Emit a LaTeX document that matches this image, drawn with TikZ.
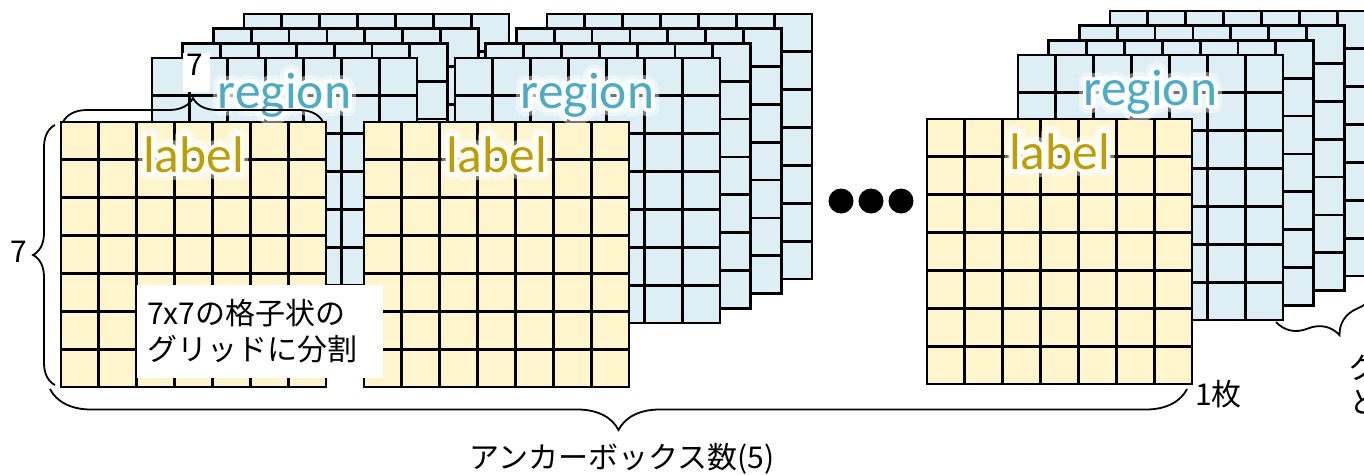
\documentclass[tikz,border=0pt]{standalone}
\usepackage{fontspec}
\setmainfont{Carlito}
\newfontfamily\jp{Noto Sans CJK JP}
\usetikzlibrary{decorations.pathreplacing,calc}
\definecolor{bluefill}{HTML}{DDEEF5}
\definecolor{yellowfill}{HTML}{FFF5CC}
\definecolor{regioncol}{HTML}{4BACC6}
\definecolor{labelcol}{HTML}{BF9F00}

\newcommand\gridsheet[3]{%
  \fill[#3] (#1,#2) rectangle ++(265,265);
  \foreach \j in {1,...,6}{%
    \draw[gridline] ({#1+\j*37.857},#2) -- ++(0,265);
    \draw[gridline] (#1,{#2+\j*37.857}) -- ++(265,0);
  }%
  \draw[gridline] (#1,#2) rectangle ++(265,265);
}
\newcommand\glowtext[4]{%
  \node[bigtxt,anchor=base,text=white,opacity=0.45] at #2 {\special{pdf:literal direct 2 Tr 16 w 1 j 1 1 1 RG}#4\special{pdf:literal direct 0 Tr}};%
  \node[bigtxt,anchor=base,text=white] at #2 {\special{pdf:literal direct 2 Tr 8 w 1 j 1 1 1 RG}#4\special{pdf:literal direct 0 Tr}};%
  \node[bigtxt,anchor=base,text=#3] (#1) at #2 {#4};%
}
\newcommand\gridstack[3]{%
  \foreach \i in {3,2,1,0}{%
    \pgfmathsetmacro\sx{#1+91+\i*30.67}%
    \pgfmathsetmacro\sy{#2-64-\i*14.67}%
    \gridsheet{\sx}{\sy}{bluefill}%
  }%
  \gridsheet{#1}{#2}{yellowfill}%
  \glowtext{region#3}{(#1+223.5,#2-14)}{regioncol}{region}%
  \glowtext{label#3}{(#1+132.5,#2+50)}{labelcol}{label}%
}

\begin{document}
\begin{tikzpicture}[x=1pt,y=-1pt,
  gridline/.style={line width=2.8pt,line cap=rect,black},
  bigtxt/.style={font=\fontsize{51.5}{60}\selectfont,inner sep=0pt},
  jptxt/.style={font=\jp\fontsize{30}{36}\selectfont,inner sep=0pt},
  bracestyle/.style={line width=1.8pt,decorate,decoration={brace,amplitude=#1}},
  dotstyle/.style={circle,fill=black,minimum size=25pt,inner sep=0pt}]
\useasboundingbox (0,0) rectangle (1364,474);

\gridstack{61}{122}{1}
\gridstack{364}{122}{2}
\gridstack{927}{119}{3}

% dots
\node[dotstyle] (dot1) at (841,201) {};
\node[dotstyle] (dot2) at (871,201) {};
\node[dotstyle] (dot3) at (901,201) {};

% braces
\coordinate (tb1) at (63,122);
\coordinate (tb2) at (323,122);
\draw[bracestyle=24pt] (tb1) -- (tb2);
\coordinate (lb1) at (55,385);
\coordinate (lb2) at (55,125);
\draw[bracestyle=22pt] (lb1) -- (lb2);
\coordinate (bb1) at (1187,389);
\coordinate (bb2) at (50,389);
\draw[bracestyle=41pt] (bb1) -- (bb2);
\coordinate (rb1) at (1376,281.5);
\coordinate (rb2) at (1276,322);
\draw[bracestyle=36pt] (rb1) -- (rb2);

% labels
\fill[white] (183,53) rectangle (210,92);
\node[jptxt,anchor=base] (seventop) at (195,75) {7};
\node[jptxt,anchor=base] (sevenleft) at (19,262) {7};
\node[jptxt,anchor=base west] (onesheet) at (1195,405) {1枚};
\node[jptxt,anchor=base] (anchors) at (622,468) {アンカーボックス数(5)};
\node[jptxt,anchor=base west] (rtext1) at (1349,378) {グ};
\node[jptxt,anchor=base west] (rtext2) at (1349,413) {と};
\node[jptxt,fill=white,minimum width=246pt,minimum height=93pt,inner xsep=10pt,text width=226pt,align=left] (note) at (260,331.5) {7x7の格子状の\\グリッドに分割};
\end{tikzpicture}
\end{document}
